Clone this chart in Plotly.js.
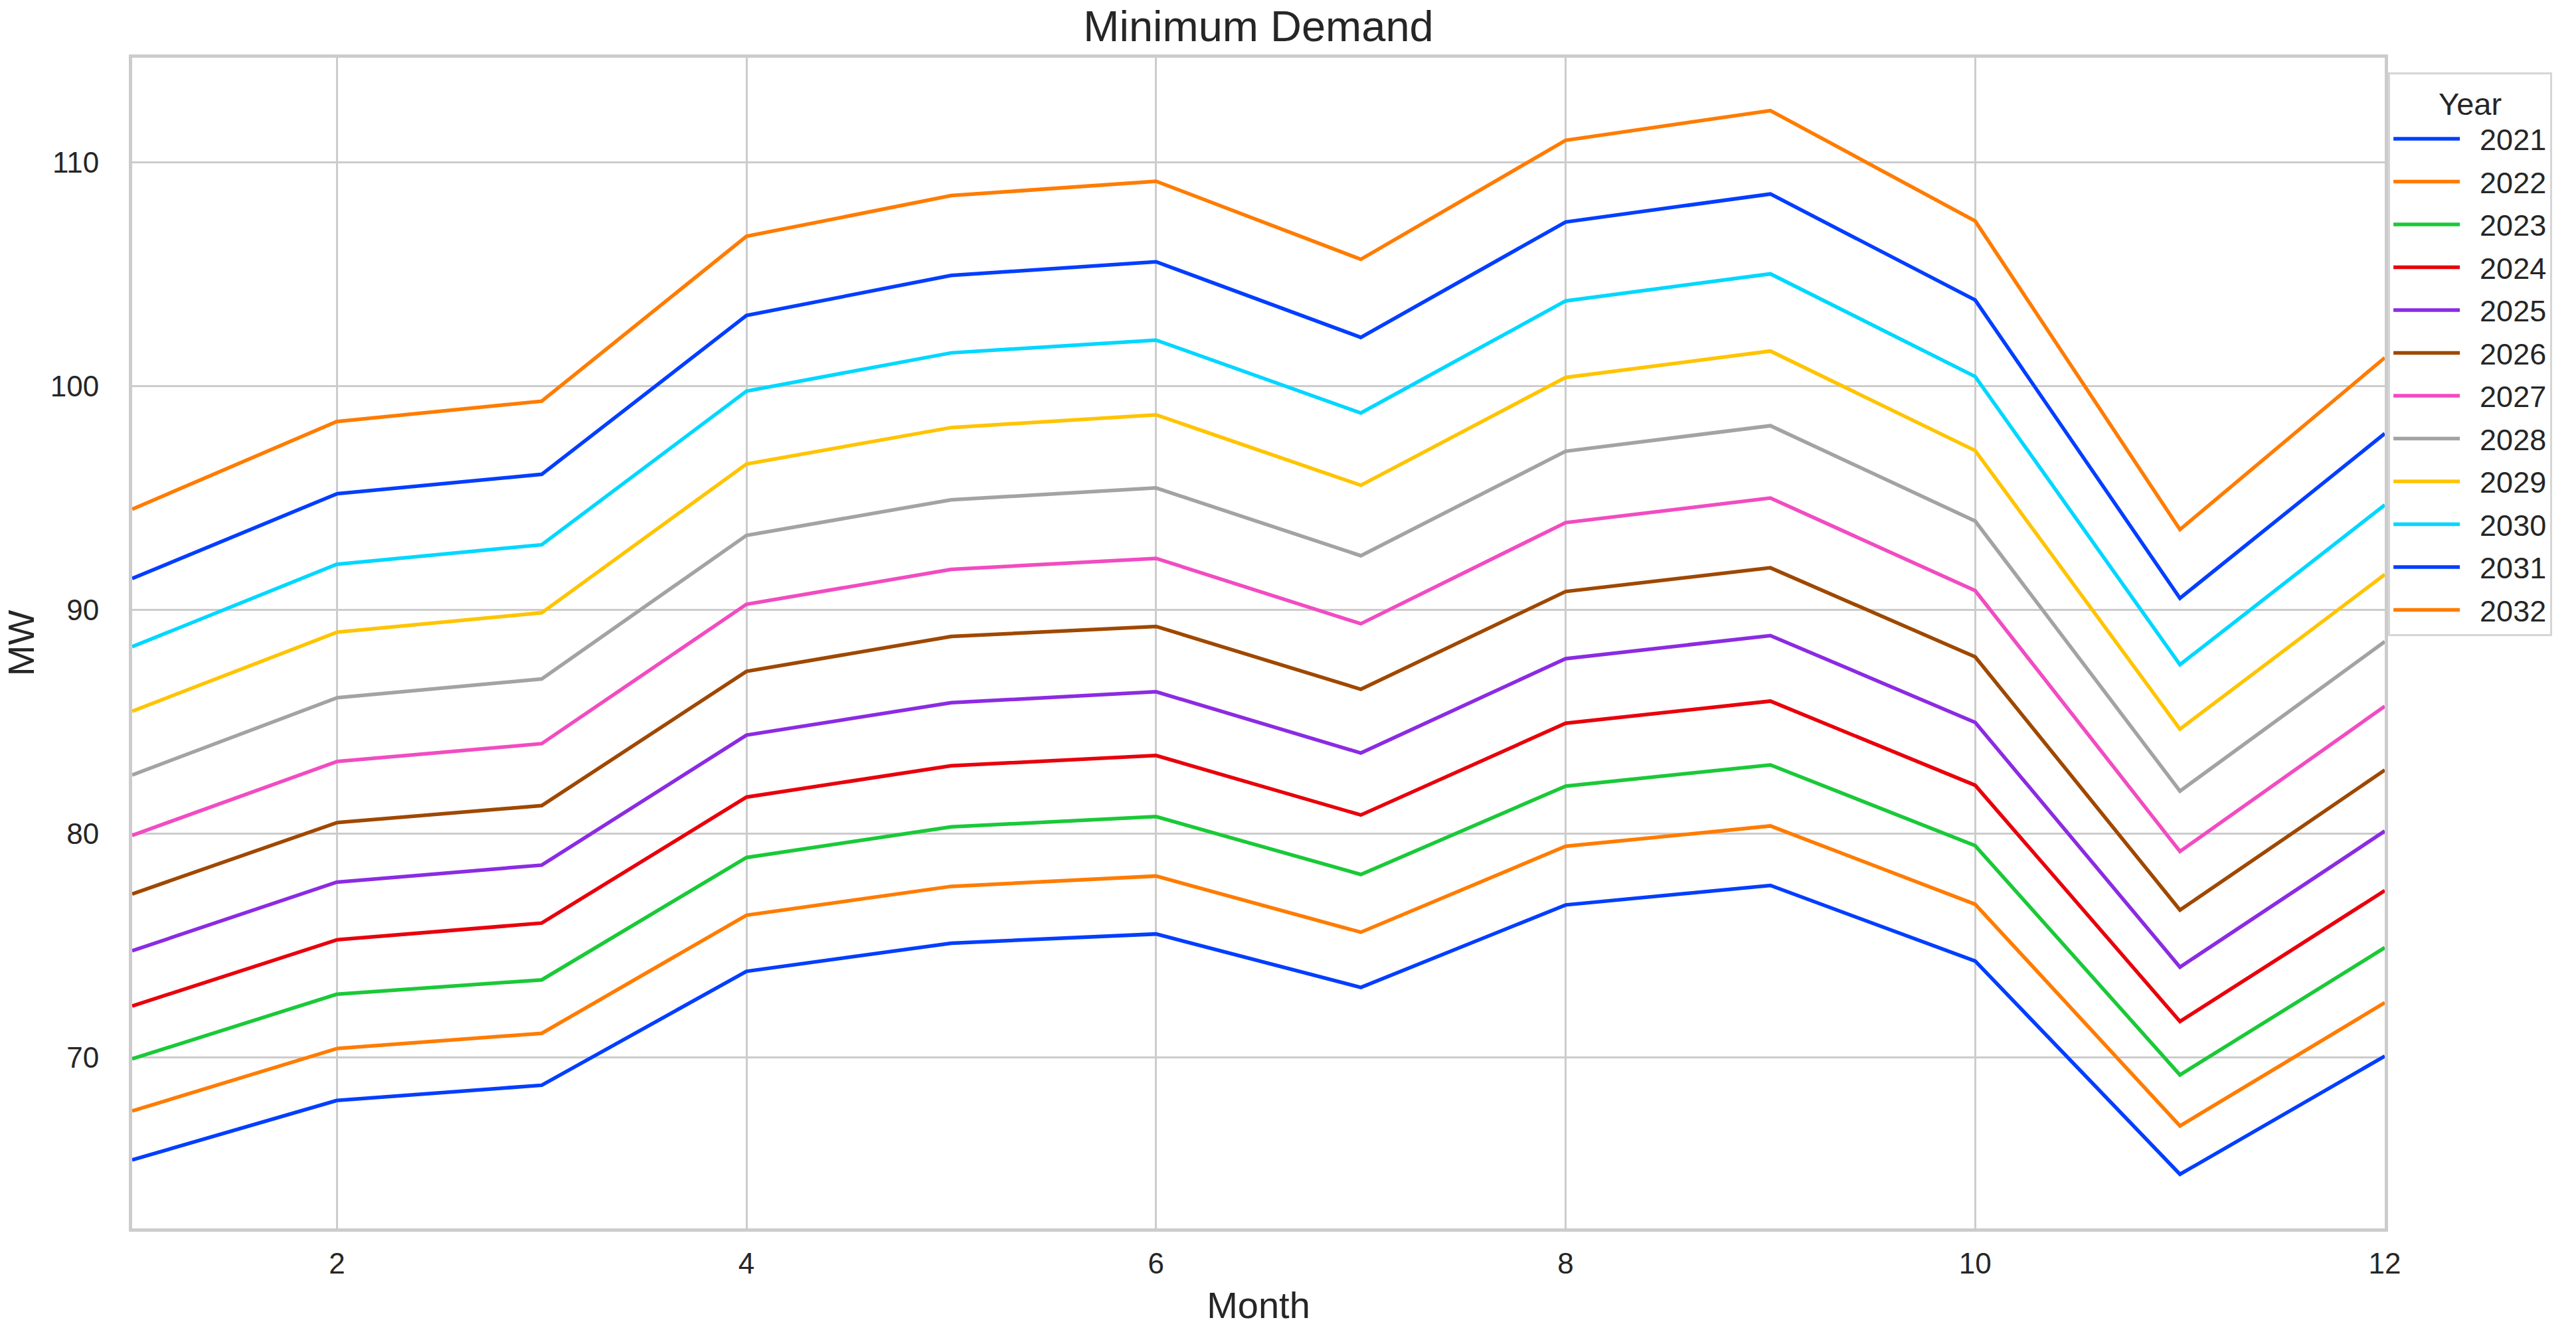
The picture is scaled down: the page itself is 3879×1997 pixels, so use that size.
<!DOCTYPE html>
<html>
<head>
<meta charset="utf-8">
<script src="https://cdn.plot.ly/plotly-3.0.1.min.js"></script>
<style>
html,body{margin:0;padding:0;background:#ffffff;}
#chart{width:3879px;height:1997px;}
</style>
</head>
<body>
<div id="chart"></div>
<script>
// Data
const months = [1, 2, 3, 4, 5, 6, 7, 8, 9, 10, 11, 12];
const years = ['2021','2022','2023','2024','2025','2026','2027','2028','2029','2030','2031','2032'];
const y2021 = [65.41, 68.07, 68.75, 73.84, 75.10, 75.51, 73.12, 76.81, 77.68, 74.30, 64.77, 70.05];
const y2022 = [67.60, 70.39, 71.07, 76.35, 77.64, 78.10, 75.59, 79.43, 80.34, 76.84, 66.93, 72.44];
const y2023 = [69.93, 72.82, 73.46, 78.93, 80.30, 80.76, 78.17, 82.12, 83.07, 79.46, 69.21, 74.90];
const y2024 = [72.29, 75.25, 76.00, 81.63, 83.03, 83.49, 80.83, 84.93, 85.92, 82.16, 71.60, 77.45];
const y2025 = [74.76, 77.83, 78.59, 84.40, 85.85, 86.34, 83.60, 87.82, 88.85, 84.97, 74.03, 80.11];
const y2026 = [77.30, 80.49, 81.25, 87.25, 88.81, 89.26, 86.45, 90.82, 91.88, 87.90, 76.58, 82.84];
const y2027 = [79.92, 83.22, 84.02, 90.25, 91.81, 92.30, 89.38, 93.90, 95.00, 90.86, 79.20, 85.69];
const y2028 = [82.62, 86.07, 86.91, 93.33, 94.92, 95.45, 92.42, 97.09, 98.23, 93.97, 81.90, 88.58];
const y2029 = [85.47, 89.00, 89.87, 96.52, 98.15, 98.72, 95.57, 100.39, 101.57, 97.12, 84.67, 91.58];
const y2030 = [88.35, 92.04, 92.91, 99.78, 101.49, 102.06, 98.80, 103.81, 105.02, 100.43, 87.55, 94.69];
const y2031 = [91.40, 95.19, 96.06, 103.16, 104.95, 105.56, 102.18, 107.34, 108.59, 103.85, 90.52, 97.88];
const y2032 = [94.50, 98.42, 99.33, 106.70, 108.52, 109.16, 105.67, 110.99, 112.32, 107.38, 93.59, 101.27];
const xTicks = [2, 4, 6, 8, 10, 12];
const yTicks = [70, 80, 90, 100, 110];

const seriesValues = [y2021, y2022, y2023, y2024, y2025, y2026, y2027, y2028, y2029, y2030, y2031, y2032];
const palette = ['#023eff','#ff7c00','#1ac938','#e8000b','#8b2be2','#9f4800','#f14cc1','#a3a3a3','#ffc400','#00d7ff','#023eff','#ff7c00'];

const FONT = 'Liberation Sans, Arial, Helvetica, sans-serif';
const TXT = '#262626';

const traces = years.map((yr, i) => ({
  type: 'scatter',
  mode: 'lines',
  x: months,
  y: seriesValues[i],
  name: '\u00a0\u00a0' + yr,
  legendgroup: 'g' + yr,
  line: {color: palette[i], width: 5.5},
  hoverinfo: 'skip'
}));

const layout = {
  width: 3879,
  height: 1997,
  paper_bgcolor: '#ffffff',
  plot_bgcolor: '#ffffff',
  margin: {l: 199, r: 288, t: 87, b: 147, pad: 0},
  font: {family: FONT, color: TXT, size: 44},
  title: {
    text: 'Minimum Demand',
    font: {family: FONT, size: 65, color: TXT},
    x: 0.5, xref: 'paper', xanchor: 'center',
    y: 1 - 39 / 1997, yref: 'container', yanchor: 'middle'
  },
  xaxis: {
    range: [1, 12],
    tickvals: xTicks,
    ticktext: xTicks.map(String),
    showgrid: true, gridcolor: '#cccccc', gridwidth: 3,
    zeroline: false,
    showline: true, mirror: true, linecolor: '#cccccc', linewidth: 5,
    ticks: '', ticklabelstandoff: 10,
    tickfont: {family: FONT, size: 44, color: TXT},
    title: {text: 'Month', font: {family: FONT, size: 56, color: TXT}, standoff: 29}
  },
  yaxis: {
    range: [62.35, 114.68],
    tickvals: yTicks,
    ticktext: yTicks.map(String),
    showgrid: true, gridcolor: '#cccccc', gridwidth: 3,
    zeroline: false,
    showline: true, mirror: true, linecolor: '#cccccc', linewidth: 5,
    ticks: '', ticklabelstandoff: 36,
    tickfont: {family: FONT, size: 44, color: TXT},
    title: {text: 'MW', font: {family: FONT, size: 56, color: TXT}, standoff: 14}
  },
  showlegend: true,
  legend: {
    x: 1.0015, xref: 'paper', xanchor: 'left',
    y: 0.9875, yref: 'paper', yanchor: 'top',
    bgcolor: '#ffffff',
    bordercolor: '#d5d5d5', borderwidth: 3,
    font: {family: FONT, size: 45, color: TXT},
    title: {text: 'Year', side: 'top center', font: {family: FONT, size: 47, color: TXT}},
    tracegroupgap: 3,
    itemwidth: 100,
    traceorder: 'grouped'
  }
};

Plotly.newPlot('chart', traces, layout, {staticPlot: true, displayModeBar: false});
</script>
</body>
</html>
